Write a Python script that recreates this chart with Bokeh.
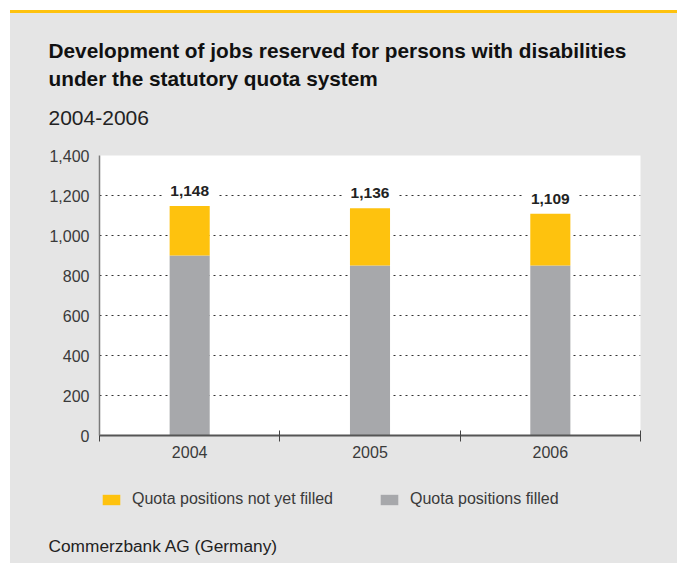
from bokeh.plotting import figure
from bokeh.layouts import column
from bokeh.models import (ColumnDataSource, Range1d, FixedTicker, NumeralTickFormatter,
                          Legend, LegendItem, Label, Div)
from bokeh.embed import file_html
from bokeh.resources import INLINE
from bokeh.core.properties import value

# ---- data ----
years = ["2004", "2005", "2006"]
filled = [900, 850, 850]
not_filled = [248, 286, 259]
y_ticks = [0, 200, 400, 600, 800, 1000, 1200, 1400]

title_1 = "Development of jobs reserved for persons with disabilities"
title_2 = "under the statutory quota system"
subtitle = "2004-2006"
source_note = "Commerzbank AG (Germany)"
legend_labels = ["Quota positions not yet filled", "Quota positions filled"]

YELLOW = "#FEC20E"
GREY = "#A7A8AB"
BG = "#E5E5E5"
FONT = "Liberation Sans"
W = 667

n = len(years)
centers = [i + 0.5 for i in range(n)]
totals = [f + u for f, u in zip(filled, not_filled)]

src = ColumnDataSource(dict(
    x=centers, filled=filled, total=totals,
    label=[f"{t:,}" for t in totals],
))


def panel(height):
    """Grey strip whose frame is the whole canvas; pixel coordinates, y downward."""
    f = figure(width=W, height=height, output_backend="svg", toolbar_location=None,
               x_range=Range1d(0, W), y_range=Range1d(height, 0),
               x_axis_type=None, y_axis_type=None, min_border=0,
               frame_align=False)
    f.background_fill_color = BG
    f.border_fill_color = BG
    f.outline_line_color = None
    f.grid.visible = False
    return f


def add_text(f, txt, x, y, size, bold=False, color="#111111"):
    f.add_layout(Label(x=x, y=y, text=txt, text_font=FONT, text_font_size=size,
                       text_font_style="bold" if bold else "normal",
                       text_color=color, text_baseline="alphabetic"))


# ---- header ----
head = panel(132)
add_text(head, title_1, 38, 37, "20.8px", bold=True)
add_text(head, title_2, 38, 65, "20.8px", bold=True)
add_text(head, subtitle, 38, 104, "21px", color="#222222")

# ---- chart ----
p = figure(width=W, height=330, output_backend="svg", toolbar_location=None,
           x_range=Range1d(0, n), y_range=Range1d(y_ticks[0], y_ticks[-1]),
           min_border_left=89, min_border_right=37, min_border_top=10, min_border_bottom=40,
           frame_align=False)
p.background_fill_color = "white"
p.border_fill_color = BG
p.outline_line_color = None

bar_w = 40 / 180
p.vbar(x="x", bottom=0, top="filled", width=bar_w, source=src,
       fill_color=GREY, line_color=None)
p.vbar(x="x", bottom="filled", top="total", width=bar_w, source=src,
       fill_color=YELLOW, line_color=None)

p.text(x="x", y="total", text="label", source=src, y_offset=-8,
       text_align="center", text_baseline="bottom",
       text_font=value(FONT), text_font_style="bold", text_font_size="15.5px",
       text_color="#222222", background_fill_color="white", padding=(7, 2))

p.yaxis.ticker = FixedTicker(ticks=y_ticks, minor_ticks=[])
p.yaxis.formatter = NumeralTickFormatter(format="0,0")
p.yaxis.major_tick_in = 0
p.yaxis.major_tick_out = 0
p.yaxis.axis_line_color = "#7A7A7A"
p.yaxis.axis_line_width = 1.5
p.yaxis.major_label_text_font = FONT
p.yaxis.major_label_text_font_size = "16px"
p.yaxis.major_label_text_color = "#3A3A3A"
p.yaxis.major_label_standoff = 10

p.xaxis.ticker = FixedTicker(ticks=centers, minor_ticks=list(range(n + 1)))
p.xaxis.major_label_overrides = {c: y for c, y in zip(centers, years)}
p.xaxis.major_tick_in = 0
p.xaxis.major_tick_out = 0
p.xaxis.minor_tick_in = 5
p.xaxis.minor_tick_out = 6
p.xaxis.minor_tick_line_color = "#444444"
p.xaxis.minor_tick_line_width = 1
p.xaxis.axis_line_color = "#555555"
p.xaxis.axis_line_width = 2
p.xaxis.major_label_text_font = FONT
p.xaxis.major_label_text_font_size = "16px"
p.xaxis.major_label_text_color = "#3A3A3A"
p.xaxis.major_label_standoff = 4

p.xgrid.grid_line_color = None
p.ygrid.ticker = FixedTicker(ticks=y_ticks, minor_ticks=[])
p.ygrid.grid_line_color = "#333333"
p.ygrid.grid_line_dash = "2 4"
p.ygrid.grid_line_width = 1

# ---- footer with legend ----
# The legend swatches reuse the bar glyph styles; in this strip's pixel ranges the
# bar data itself lies outside the visible area, so only the legend shows.
foot = panel(88)
sw_open = foot.vbar(x="x", bottom="filled", top="total", width=bar_w, source=src,
                    fill_color=YELLOW, line_color=None)
sw_filled = foot.vbar(x="x", bottom="filled", top="total", width=bar_w, source=src,
                      fill_color=GREY, line_color=None)
legend = Legend(items=[LegendItem(label=legend_labels[0], renderers=[sw_open]),
                       LegendItem(label=legend_labels[1], renderers=[sw_filled])],
                orientation="horizontal", location=(90, 55),
                glyph_width=22, glyph_height=13, label_height=13,
                label_standoff=10, spacing=45,
                padding=0, margin=0, border_line_color=None, background_fill_alpha=0,
                label_text_font=FONT, label_text_font_size="16px",
                label_text_color="#3A3A3A")
foot.add_layout(legend, "center")
add_text(foot, source_note, 38, 70, "17.3px", color="#222222")

top_rule = Div(text="", width=W, height=3, margin=(0, 0, 0, 0),
               styles={"background-color": YELLOW})

layout = column(top_rule, head, p, foot, spacing=0, margin=(10, 0, 0, 10),
                styles={"background-color": BG})

open("out.html", "w").write(file_html(layout, INLINE))
